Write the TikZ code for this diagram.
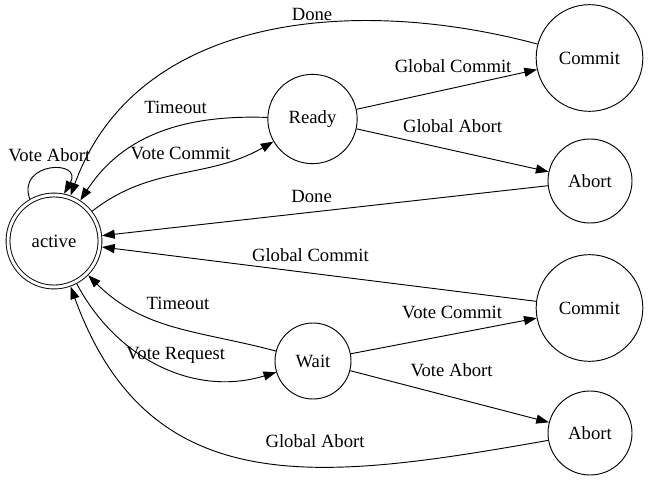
\documentclass[tikz,border=0pt]{standalone}
\usepackage{fontspec}
\setmainfont{Liberation Serif}
\usepackage{tikz}
\usetikzlibrary{arrows.meta,positioning}

\tikzset{
  state/.style={draw, circle, line width=0.7pt, inner sep=0pt},
  accept/.style={state, double, double distance=2.2pt, outer sep=1.8pt},
  trans/.style={-{Triangle[length=9.5pt,width=6.8pt]}, line width=0.7pt},
  lbl/.style={inner sep=1pt},
}

\begin{document}
\begin{tikzpicture}[x=0.75pt, y=0.75pt, font=\fontsize{14}{16}\selectfont]
  \useasboundingbox (0,0) rectangle (650,480);

  % States
  \node[accept, minimum size=69pt] (active) at (54,239) {active};
  \node[state, minimum size=67pt] (ready) at (312.5,361) {Ready};
  \node[state, minimum size=57pt] (wait) at (313,119) {Wait};
  \node[state, minimum size=80pt] (commitTop) at (589.5,422) {Commit};
  \node[state, minimum size=63pt] (abortTop) at (590,299) {Abort};
  \node[state, minimum size=80pt] (commitBot) at (589.5,172) {Commit};
  \node[state, minimum size=63pt] (abortBot) at (590,47) {Abort};

  % Upper branch
  \draw[trans] (active.120) .. controls +(110:40) and +(60:40) .. (active.78)
    node[lbl, midway, above=4pt] {Vote Abort};
  \draw[trans] (commitTop) to[out=165, in=70] node[lbl, pos=0.4, above=1pt] {Done} (active);
  \draw[trans] (ready) to[out=178, in=57] node[lbl, pos=0.42, above=8.5pt] {Timeout} (active);
  \draw[trans] (active) to[out=38, in=210] node[lbl, pos=0.5, above=9pt] {Vote Commit} (ready);
  \draw[trans] (ready) -- (commitTop) node[lbl, pos=0.535, above=10pt] {Global Commit};
  \draw[trans] (ready) -- (abortTop) node[lbl, pos=0.5, above=11.5pt] {Global Abort};
  \draw[trans] (abortTop) -- (active) node[lbl, pos=0.53, above=6pt] {Done};

  % Lower branch
  \draw[trans] (commitBot) -- (active) node[lbl, pos=0.52, above=7pt] {Global Commit};
  \draw[trans] (wait) to[out=165, in=-45] node[lbl, pos=0.48, above=12pt] {Timeout} (active);
  \draw[trans] (active) to[out=-62, in=197] node[lbl, pos=0.57, above=5pt] {Vote Request} (wait);
  \draw[trans] (wait) -- (commitBot) node[lbl, pos=0.545, above=10pt] {Vote Commit};
  \draw[trans] (wait) -- (abortBot) node[lbl, pos=0.51, above=13.5pt] {Vote Abort};
  \draw[trans] (abortBot) to[out=190, in=-70, looseness=1.18] node[lbl, pos=0.38, above=13pt] {Global Abort} (active);
\end{tikzpicture}
\end{document}
